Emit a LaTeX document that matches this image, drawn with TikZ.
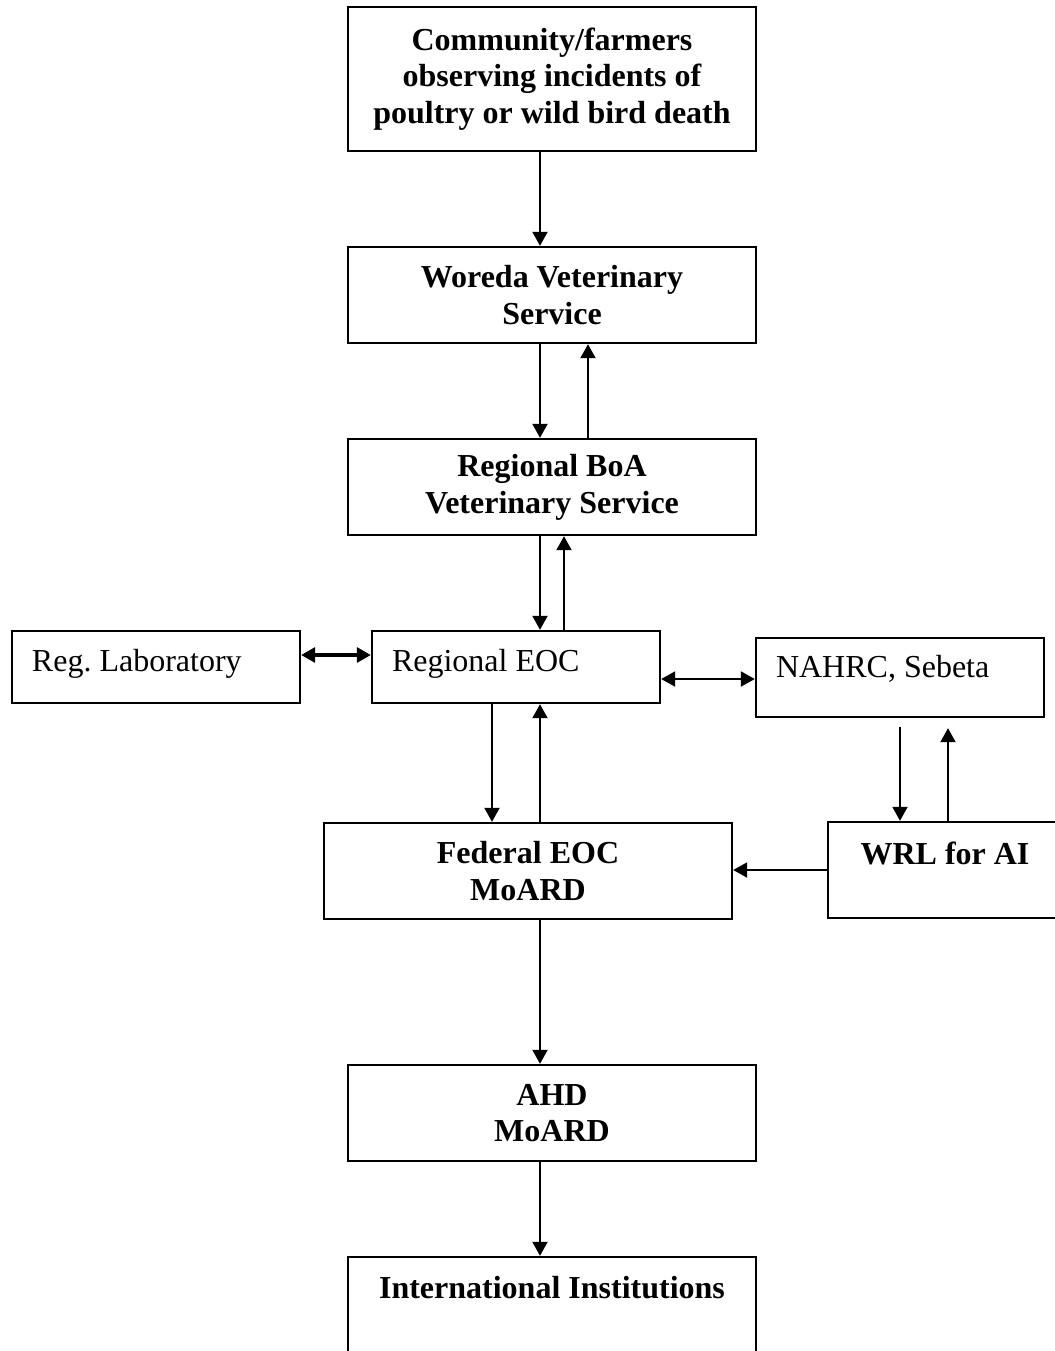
\documentclass[tikz,border=0pt]{standalone}
\usepackage{fontspec}
\setmainfont{Liberation Serif}
\usepackage{tikz}
\usetikzlibrary{arrows.meta}
\newcommand{\boxfont}{\fontsize{16pt}{18.4pt}\selectfont\frenchspacing}

\begin{document}
\begin{tikzpicture}[
			x=0.5pt, y=-0.5pt,
			box/.style={draw, line width=1.2pt, minimum width=204pt, minimum height=48pt, align=center, font=\boxfont\bfseries},
			side/.style={draw, line width=1.2pt, minimum width=144pt, minimum height=36pt, inner xsep=10pt, text width=124pt, align=flush left, font=\boxfont, text height=11pt},
			link/.style={line width=1pt, -{Triangle[length=7pt, width=7.5pt]}},
			twoway/.style={line width=1pt, {Triangle[length=7pt, width=7.5pt]}-{Triangle[length=7pt, width=7.5pt]}}
		]
		\path[use as bounding box] (0,0) rectangle (1055,1351);
		\clip (0,0) rectangle (1055,1351);

		\node[box, minimum height=72pt] (1) at (552,79) {Community/farmers\\observing incidents of\\poultry or wild bird death};
		\node[box] (2) at (552,295) {Woreda Veterinary\\Service};
		\node[box] (3) at (552,487) {Regional BoA\\Veterinary Service};
		\node[side, text depth=6.9pt] (4) at (156,667) {Reg. Laboratory};
		\node[side, text depth=6.9pt] (5) at (516,667) {Regional EOC};
		\node[side, minimum height=39.5pt, text depth=11pt] (6) at (900,677.5) {NAHRC, Sebeta};
		\node[box] (7) at (528,871) {Federal EOC\\MoARD};
		\node[box, minimum width=117pt, text height=11pt, text depth=16.9pt] (8) at (945,870) {WRL for AI};
		\node[box] (9) at (552,1113) {AHD\\MoARD};
		\node[box, text height=11pt, text depth=17.9pt] (10) at (552,1305) {International Institutions};

		% reporting chain
		\draw[link] ([xshift=-6pt]1.south) -- ([xshift=-6pt]2.north);
		\draw[link] ([xshift=-6pt]2.south) -- ([xshift=-6pt]3.north);
		\draw[link] ([xshift=18pt]3.north) -- ([xshift=18pt]2.south);
		\draw[link] ([xshift=-6pt]3.south) -- ([xshift=-6pt]3.south |- 5.north);
		\draw[link] ([xshift=24pt]5.north) -- ([xshift=24pt]5.north |- 3.south);
		\draw[link] ([xshift=-12pt]5.south) -- ([xshift=-12pt]5.south |- 7.north);
		\draw[link] ([xshift=6pt]7.north) -- ([xshift=6pt]7.north |- 5.south);
		\draw[link] ([xshift=6pt]7.south) -- ([xshift=6pt]7.south |- 9.north);
		\draw[link] ([xshift=-6pt]9.south) -- ([xshift=-6pt]10.north);

		% laboratories
		\draw[twoway, line width=1.6pt] ([yshift=6pt]4.east) -- ([yshift=6pt]5.west);
		\draw[twoway] ([yshift=-6pt]5.east) -- ([yshift=-6pt]5.east -| 6.west);
		\draw[link, shorten <=4.5pt] (6.south) -- (6.south |- 8.north);
		\draw[link, shorten >=5pt] ([xshift=1.5pt]8.north) -- ([xshift=1.5pt]8.north |- 6.south);
		\draw[link] (8.west) -- (8.west -| 7.east);
	\end{tikzpicture}
\end{document}
